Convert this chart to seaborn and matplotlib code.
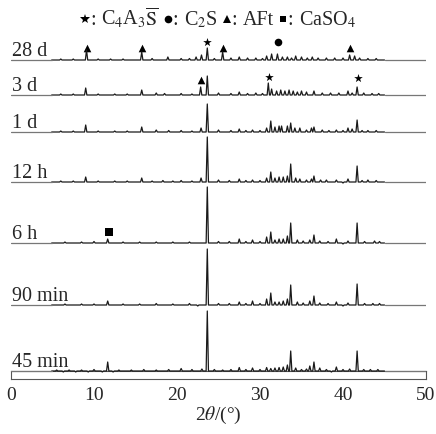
import numpy as np
import pandas as pd
import matplotlib
matplotlib.use("Agg")
import matplotlib.pyplot as plt
import seaborn as sns
from matplotlib.lines import Line2D
from matplotlib.offsetbox import TextArea, HPacker, DrawingArea, AnchoredOffsetbox

# sample ages, bottom to top
labels = ["45 min", "90 min", "6 h", "12 h", "1 d", "3 d", "28 d"]
# vertical shift of each pattern (same units as peak heights)
offsets = [0, 66, 128, 189, 239, 276, 311]

scan_start = 4.9
scan_end = 45.0

# peak positions (2theta) and heights
pos_45min = [5.5, 6.3, 7.0, 7.8, 8.5, 9.3, 10.0, 11.0, 11.65, 12.3, 13.0, 14.5, 16.0, 17.5, 19.0,
             20.5, 21.8, 23.0, 23.65, 24.5, 25.5, 26.5, 27.5, 28.3, 29.1, 30.0, 30.8, 31.3, 31.8,
             32.3, 32.8, 33.3, 33.7, 34.3, 35.0, 35.6, 36.0, 36.5, 37.2, 38.0, 38.6, 39.2, 40.0,
             40.8, 41.7, 42.5, 43.3, 44.2]
h_45min = [1, -1, 1, -1, 1, -1, 1.5, -1, 9, -1, 1, 1, 1.5, 1, 1.5,
           2.5, 1.5, 2, 60, 1.5, 1, 1.5, 3.5, 1.5, 3, 1.5, 3.5, 2.5, 3,
           3.5, 4, 6, 20, 3, 1.5, 2, 5, 9, 3, 1.5, -1, 4, 1.5,
           2, 20, 1.5, 1.5, 1.5]

pos_90min = [6.5, 8.5, 10.0, 11.65, 13.5, 15.5, 17.5, 19.5, 21.5, 22.5, 23.65, 25.0, 26.3, 27.5,
             28.3, 29.1, 30.0, 30.8, 31.3, 31.8, 32.3, 32.8, 33.3, 33.7, 34.5, 35.2, 36.0, 36.5,
             37.2, 38.2, 39.2, 40.0, 40.6, 41.7, 42.6, 43.6, 44.4]
h_90min = [1, 1, 1, 4, 1, 1, 1.5, 1, 1.5, -1, 56, 1.5, 1.5, 3,
           1.5, 4, 1.5, 6, 12, 3, 3, 4, 6, 20, 3, 2, 4, 9,
           2, 1.5, 3, -1, 2, 21, 1.5, 1.5, 1.5]

pos_6h = [6.5, 8.5, 10.0, 11.65, 13.5, 15.5, 17.5, 19.5, 21.5, 23.65, 25.0, 26.3, 27.5, 28.3,
          29.1, 30.0, 30.8, 31.3, 31.8, 32.3, 32.8, 33.3, 33.7, 34.5, 35.2, 36.0, 36.5, 37.2,
          38.2, 39.2, 40.0, 40.6, 41.7, 42.6, 43.8, 44.4]
h_6h = [1, 1, 1.5, 4, 1, 1, 1, 1, 1, 56, 1.5, 1.5, 4, 1.5,
        3, 1.5, 6, 11, 3, 4, 4, 7, 20, 3, 2, 3, 8, 2,
        1.5, 4, -1, 2, 20, 1.5, 2, 1.5]

pos_12h = [6.0, 7.5, 9.0, 10.5, 12.5, 14.0, 15.75, 17.0, 18.3, 19.5, 20.5, 21.8, 22.9, 23.65,
           25.0, 26.3, 27.5, 28.3, 29.1, 30.0, 30.8, 31.3, 31.8, 32.3, 32.8, 33.3, 33.7, 34.3,
           34.8, 35.6, 36.2, 36.5, 37.3, 38.0, 39.2, 40.0, 40.6, 41.7, 42.3, 43.0, 44.0]
h_12h = [1, 1, 5, 1, 1, 1, 4, 1, 1.5, 1, 1.5, 1, 4, 45,
         2, 1.5, 3, 1.5, 2, 1.5, 4, 10, 4, 5, 5, 6, 18, 4,
         3, 2, 3, 6, 2, 2, 2, -1, 3, 16, 1.5, 2, 1.5]

pos_1d = [6.0, 7.5, 9.0, 10.5, 12.5, 14.0, 15.75, 17.5, 19.0, 20.5, 21.8, 22.9, 23.65, 25.0,
          26.5, 27.5, 28.3, 29.1, 30.0, 30.8, 31.3, 31.8, 32.3, 32.6, 33.3, 33.7, 34.2, 34.8,
          35.6, 36.2, 36.5, 37.5, 38.3, 39.2, 40.0, 40.6, 41.1, 41.7, 42.3, 43.0, 44.0]
h_1d = [1, 1, 7, 1, 1, 1, 5, 2, 1.5, 1.5, 1, 4, 28, 2,
        1.5, 3, 1.5, 2, 1.5, 4, 11, 5, 6, 6, 6, 9, 4, 4,
        2, 4, 5, 2, 1.5, 2, 1.5, 4, 3, 12, 1.5, 1.5, 1.5]

pos_3d = [6.0, 7.5, 9.0, 10.5, 12.5, 14.0, 15.75, 17.5, 18.5, 20.5, 21.8, 22.85, 23.65, 25.0,
          26.5, 27.5, 28.5, 29.5, 30.3, 31.0, 31.4, 32.0, 32.5, 33.0, 33.5, 34.0, 34.5, 35.0,
          35.6, 36.5, 37.5, 38.5, 39.5, 40.6, 41.1, 41.7, 42.5, 43.5, 44.3]
h_3d = [1, 1, 7, 1, 1, 1, 5, 2, 1.5, 1.5, 1, 8, 19, 2,
        1.5, 3, 1.5, 2, 1.5, 12, 6, 4, 5, 4, 5, 4, 3, 4,
        3, 4, 2, 2, 2, 4, 2, 8, 2, 1.5, 1.5]

pos_28d = [6.0, 7.5, 9.1, 10.5, 12.0, 13.5, 15.75, 17.0, 18.9, 20.5, 21.5, 22.3, 22.95, 23.65,
           24.5, 25.5, 26.5, 27.5, 28.5, 29.5, 30.3, 30.8, 31.4, 32.1, 32.7, 33.3, 33.8, 34.3,
           35.0, 35.7, 36.3, 37.0, 38.0, 39.0, 40.0, 40.8, 41.4, 42.0, 43.0, 44.0]
h_28d = [1, 1, 10, 1, 1, 1, 8, 1.5, 3, 1.5, 1.5, 3, 5, 12,
         1.5, 8, 2, 3, 2, 2, 1.5, 4, 6, 6, 3, 3, 2, 4,
         3, 2, 3, 2, 2, 2, 2, 5, 4, 2, 1.5, 1.5]

peak_pos = [pos_45min, pos_90min, pos_6h, pos_12h, pos_1d, pos_3d, pos_28d]
peak_h = [h_45min, h_90min, h_6h, h_12h, h_1d, h_3d, h_28d]

# phase markers: trace index, 2theta, height above that trace, symbol
mark_trace = [6, 6, 6, 6, 6, 6, 5, 5, 5, 2]
mark_pos = [9.1, 15.75, 23.65, 25.5, 32.2, 40.8, 22.85, 31.1, 41.8, 11.8]
mark_h = [12, 12, 18, 12, 18, 12, 15, 18, 17, 11]
mark_sym = ["^", "^", "*", "^", "o", "^", "^", "*", "*", "s"]

# top legend: symbol and phase name
legend_sym = ["*", "o", "^", "s"]
legend_name = [r"C$_4$A$_3$$\overline{\mathrm{S}}$", r"C$_2$S", "AFt", r"CaSO$_4$"]

sns.set_style("white")
plt.rcParams["font.family"] = ["Liberation Serif", "DejaVu Serif"]
plt.rcParams["mathtext.fontset"] = "stix"

fig = plt.figure(figsize=(4.36, 4.35), dpi=100)
W, H = 436, 435
left, width = 11 / W, 415 / W
axb = fig.add_axes([left, 55 / H, width, 8 / H])
ax = fig.add_axes([left, 55 / H, width, 350 / H])
ax.set_xlim(0, 50)
ax.set_ylim(-8, 342)
ax.axis("off")
ax.patch.set_alpha(0)

hw = 0.14
for i, lab in enumerate(labels):
    xs, ys = [scan_start], [0.0]
    for p, h in zip(peak_pos[i], peak_h[i]):
        xs += [p - hw, p, p + hw]
        ys += [0.0, h, 0.0]
    xs.append(scan_end)
    ys.append(0.0)
    df = pd.DataFrame({"x": xs, "y": np.array(ys) + offsets[i]})
    sns.lineplot(data=df, x="x", y="y", ax=ax, color="#1a1a1a", lw=0.9,
                 estimator=None, sort=False)
    flat = pd.DataFrame({"x": [0, scan_start, np.nan, scan_end, 50],
                         "y": [offsets[i]] * 2 + [np.nan] + [offsets[i]] * 2})
    ax.plot(flat["x"], flat["y"], color="#777777", lw=0.9)
    ax.text(0.15, offsets[i] + 5, lab, fontsize=14.5, va="baseline", ha="left")

mk = pd.DataFrame({"x": mark_pos,
                   "y": [offsets[t] + d for t, d in zip(mark_trace, mark_h)],
                   "m": mark_sym})
for sym, sub in mk.groupby("m"):
    size = {"^": 30, "*": 42, "o": 30, "s": 26}[sym]
    ax.scatter(sub["x"], sub["y"], marker=sym, s=size, color="black", lw=0)

axb.set_xlim(0, 50)
axb.set_ylim(0, 1)
axb.set_yticks([])
axb.set_xticks([0, 10, 20, 30, 40, 50])
axb.tick_params(axis="x", direction="in", length=5.8, width=0.8, color="#555555",
                labelsize=14, pad=5)
for s in axb.spines.values():
    s.set_color("#555555")
    s.set_linewidth(0.8)
axb.set_xlabel(r"2$\theta$/(°)", fontsize=14, labelpad=1)
axb.set_facecolor("none")

# legend line of phase symbols at the top
txt_props = dict(fontsize=14.5)
msize = {"*": 7.5, "o": 5.5, "^": 6, "s": 5}
parts = []
for k, (s, n) in enumerate(zip(legend_sym, legend_name)):
    if k:
        parts.append(TextArea("\u2009", textprops=dict(fontsize=14.5, family="DejaVu Sans")))
    da = DrawingArea(7.5, 10, 0, 0)
    da.add_artist(Line2D([3.75], [3.8], marker=s, ms=msize[s], color="black", lw=0, mew=0))
    parts.append(da)
    parts.append(TextArea(": ", textprops=txt_props))
    parts.append(TextArea(n, textprops=txt_props))
row = HPacker(children=parts, align="baseline", pad=0, sep=0)
box = AnchoredOffsetbox(loc="center", child=row, frameon=False, pad=0, borderpad=0,
                        bbox_to_anchor=(0.5, (H - 18) / H), bbox_transform=fig.transFigure)
fig.add_artist(box)

fig.savefig("out.png", dpi=100)
